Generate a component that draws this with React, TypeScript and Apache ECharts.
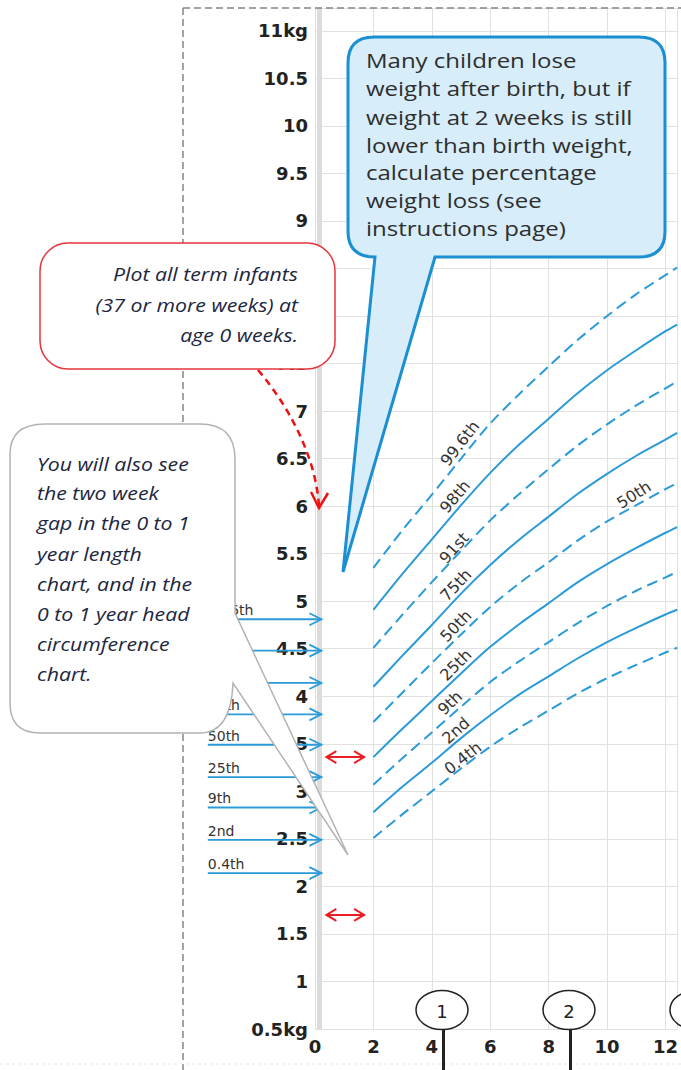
import React, { useEffect, useRef } from 'react';
import * as echarts from 'echarts';

// ---------- data ----------
const weeks = [2, 3, 4, 5, 6, 7, 8, 9, 10, 11, 12, 12.4];
const centileNames = ['99.6th', '98th', '91st', '75th', '50th', '25th', '9th', '2nd', '0.4th'];
const c99_6 = [5.35, 5.75, 6.12, 6.5, 6.87, 7.18, 7.47, 7.75, 8.0, 8.23, 8.43, 8.51];
const c98 = [4.91, 5.29, 5.65, 6.01, 6.35, 6.65, 6.92, 7.19, 7.43, 7.64, 7.84, 7.91];
const c91 = [4.51, 4.86, 5.2, 5.53, 5.85, 6.13, 6.39, 6.64, 6.86, 7.06, 7.24, 7.31];
const c75 = [4.1, 4.43, 4.75, 5.08, 5.38, 5.65, 5.89, 6.13, 6.34, 6.53, 6.7, 6.77];
const c50 = [3.73, 4.04, 4.35, 4.65, 4.94, 5.19, 5.41, 5.64, 5.84, 6.01, 6.18, 6.24];
const c25 = [3.36, 3.66, 3.95, 4.24, 4.52, 4.76, 4.98, 5.2, 5.39, 5.56, 5.72, 5.78];
const c9 = [3.07, 3.35, 3.62, 3.89, 4.15, 4.37, 4.57, 4.77, 4.95, 5.11, 5.25, 5.31];
const c2 = [2.78, 3.05, 3.3, 3.56, 3.8, 4.02, 4.21, 4.4, 4.57, 4.72, 4.86, 4.91];
const c0_4 = [2.51, 2.76, 3.0, 3.24, 3.47, 3.67, 3.85, 4.03, 4.19, 4.33, 4.46, 4.51];
const centileValues = [c99_6, c98, c91, c75, c50, c25, c9, c2, c0_4];
const centileDashed = [true, false, true, false, true, false, true, false, true];

// centile label anchors (weeks, kg) and slope angle (deg)
const labelWeeks = [4.96, 4.79, 4.76, 4.82, 4.82, 4.82, 4.62, 4.82, 5.06];
const labelKg = [6.66, 6.1, 5.56, 5.17, 4.74, 4.33, 3.93, 3.64, 3.35];
const labelAngle = [52, 50, 48, 47, 46, 45, 44, 42, 38];
const extraLabel = { text: '50th', week: 10.92, kg: 6.12, angle: 32 };

// birth-weight centile arrows at age 0
const birthKg = [4.81, 4.48, 4.14, 3.81, 3.49, 3.15, 2.83, 2.49, 2.14];
const birthArrowFromWeek = -3.67;
const birthArrowToWeek = 0.22;

// two-week gap double arrows
const gapKg = [3.36, 1.7];
const gapFromWeek = 0.39;
const gapToWeek = 1.68;

// month markers
const months = [1, 2, 3];
const WEEKS_PER_MONTH = 4.348;

// axes
const X_MIN = 0;
const X_MAX = 12.39;
const X_STEP = 2;
const Y_MIN = 0.5;
const Y_MAX = 11.24;
const Y_STEP = 0.5;

// ---------- styles ----------
const BLUE = '#2a9ad8';
const AXIS_FONT = "'DejaVu Sans', sans-serif";
const OPEN = "'Open Sans', sans-serif";
const CHART_W = 681;

const GREY_PATH =
  'M 45 424 L 200 424 Q 235 424 235 459 L 235 613 L 348 855 L 233 683 Q 231 733 200 733 L 40 733 Q 10 733 10 703 L 10 454 Q 10 424 45 424 Z';
const BLUE_PATH =
  'M 374 37 L 639 37 Q 665 37 665 63 L 665 231 Q 665 257 639 257 L 435 257 L 343 572 L 375 257 Q 348 257 348 231 L 348 63 Q 348 37 374 37 Z';

echarts.graphic.registerShape('greyCallout', echarts.graphic.extendPath(GREY_PATH, {}));
echarts.graphic.registerShape('blueCallout', echarts.graphic.extendPath(BLUE_PATH, {}));

function txt(text: string, x: number, y: number, o: any) {
  const align = o.align || 'left';
  return {
    type: 'text',
    x,
    y,
    z: o.z ?? 120,
    silent: true,
    rotation: o.rot || 0,
    scaleX: o.sx || 1,
    style: {
      text,
      fill: o.color || '#333',
      fontSize: o.size,
      fontFamily: o.family || OPEN,
      fontStyle: o.italic ? 'italic' : 'normal',
      fontWeight: o.weight || 'normal',
      textAlign: align,
      align,
      textVerticalAlign: 'middle',
      verticalAlign: 'middle',
    },
  };
}

function line(x1: number, y1: number, x2: number, y2: number, stroke: string, w: number, z: number, dash?: number[]) {
  return {
    type: 'line',
    z,
    silent: true,
    shape: { x1, y1, x2, y2 },
    style: { stroke, lineWidth: w, lineDash: dash || null },
  };
}

function poly(points: number[][], stroke: string, w: number, z: number) {
  return { type: 'polyline', z, silent: true, shape: { points }, style: { stroke, lineWidth: w, fill: null } };
}

function buildGraphics(toPx: (x: number, y: number) => number[]) {
  const g: any[] = [];
  // dashed outer border
  g.push(line(183, 8, 681, 8, '#858585', 1.5, 90, [7, 4]));
  g.push(line(183, 8, 183, 1070, '#858585', 1.5, 90, [7, 4]));
  g.push(line(0, 1064, 681, 1064, '#e4e4e4', 1, 90, [3, 3]));

  // birth arrows with labels
  birthKg.forEach((kg, i) => {
    const a = toPx(birthArrowFromWeek, kg);
    const b = toPx(birthArrowToWeek, kg);
    g.push(line(a[0], a[1], b[0], b[1], BLUE, 1.8, 105));
    g.push(poly([[b[0] - 12, b[1] - 6], [b[0], b[1]], [b[0] - 12, b[1] + 6]], BLUE, 1.8, 105));
    g.push(txt(centileNames[i], a[0], a[1] - 9, { size: 14, family: AXIS_FONT, color: '#333', z: 106 }));
  });

  // two-week gap double arrows
  gapKg.forEach((kg) => {
    const a = toPx(gapFromWeek, kg);
    const b = toPx(gapToWeek, kg);
    g.push(line(a[0], a[1], b[0], b[1], '#ee1c25', 2, 105));
    g.push(poly([[a[0] + 10, a[1] - 6], [a[0], a[1]], [a[0] + 10, a[1] + 6]], '#ee1c25', 2, 105));
    g.push(poly([[b[0] - 10, b[1] - 6], [b[0], b[1]], [b[0] - 10, b[1] + 6]], '#ee1c25', 2, 105));
  });

  // centile labels on curves
  centileNames.forEach((name, i) => {
    const p = toPx(labelWeeks[i], labelKg[i]);
    g.push(txt(name, p[0], p[1], { size: 16, family: AXIS_FONT, color: '#333', align: 'center', rot: (labelAngle[i] * Math.PI) / 180, z: 104 }));
  });
  {
    const p = toPx(extraLabel.week, extraLabel.kg);
    g.push(txt(extraLabel.text, p[0], p[1], { size: 16, family: AXIS_FONT, color: '#333', align: 'center', rot: (extraLabel.angle * Math.PI) / 180, z: 104 }));
  }

  // month markers
  months.forEach((m) => {
    const p = toPx(m * WEEKS_PER_MONTH, Y_MIN);
    const cy = p[1] - 19;
    g.push(line(p[0] + 1.5, cy + 19, p[0] + 1.5, 1070, '#222', 3, 100));
    g.push({ type: 'ellipse', z: 101, silent: true, shape: { cx: p[0], cy, rx: 26, ry: 19.5 }, style: { fill: '#fff', stroke: '#222', lineWidth: 1.5 } });
    if (p[0] + 8 < CHART_W) {
      g.push(txt(String(m), p[0], cy + 1, { size: 18, family: AXIS_FONT, color: '#222', align: 'center', z: 102 }));
    }
  });

  // red callout
  g.push({ type: 'rect', z: 110, silent: true, shape: { x: 40, y: 243, width: 295, height: 126, r: 28 }, style: { fill: '#fff', stroke: '#e8343c', lineWidth: 1.5 } });
  const redLines = ['Plot all term infants', '(37 or more weeks) at', 'age 0 weeks.'];
  const redY = [273, 304, 334];
  redLines.forEach((t, i) => g.push(txt(t, 298, redY[i], { size: 19, italic: true, color: '#1c2640', align: 'right', sx: 1.12, z: 111 })));
  g.push({ type: 'bezierCurve', z: 110, silent: true, shape: { x1: 258, y1: 370, cpx1: 292, cpy1: 410, cpx2: 316, cpy2: 460, x2: 319, y2: 506 }, style: { stroke: '#ee1111', lineWidth: 2.5, lineDash: [7, 5], fill: null } });
  g.push(poly([[311, 492], [319, 508], [328, 493]], '#ee1111', 2.5, 110));

  // grey callout
  g.push({ type: 'greyCallout', x: 0, y: 0, z: 110, silent: true, style: { fill: '#fff', stroke: '#b3b3b3', lineWidth: 1.5 } });
  const greyLines = ['You will also see', 'the two week', 'gap in the 0 to 1', 'year length', 'chart, and in the', '0 to 1 year head', 'circumference', 'chart.'];
  const greyY = [463, 492, 522, 553, 583, 613, 643, 673];
  greyLines.forEach((t, i) => g.push(txt(t, 37, greyY[i], { size: 19, italic: true, color: '#1c2640', sx: 1.12, z: 111 })));

  // blue callout
  g.push({ type: 'blueCallout', x: 0, y: 0, z: 110, silent: true, style: { fill: '#d7edf9', stroke: '#1b8fd2', lineWidth: 3 } });
  const blueLines = ['Many children lose', 'weight after birth, but if', 'weight at 2 weeks is still', 'lower than birth weight,', 'calculate percentage', 'weight loss (see', 'instructions page)'];
  const blueY = [60, 88, 117, 145, 172, 200, 228];
  blueLines.forEach((t, i) => g.push(txt(t, 366, blueY[i], { size: 20, color: '#2e2e2e', sx: 1.2, z: 111 })));

  return g;
}

function buildOption() {
  const series: any[] = centileValues.map((vals, i) => ({
    name: centileNames[i],
    type: 'line',
    data: weeks.map((w, j) => [w, vals[j]]),
    smooth: 0.3,
    showSymbol: false,
    silent: true,
    z: 3,
    lineStyle: { color: BLUE, width: 2, type: centileDashed[i] ? [11, 6] : 'solid' },
  }));
  series[0].markLine = {
    silent: true,
    symbol: 'none',
    label: { show: false },
    lineStyle: { color: '#dcdcdc', width: 5, type: 'solid' },
    data: [{ xAxis: 0.16 }],
  };
  return {
    animation: false,
    backgroundColor: '#ffffff',
    grid: { left: 315, right: 0, top: 8, bottom: 41, containLabel: false },
    xAxis: {
      type: 'value',
      min: X_MIN,
      max: X_MAX,
      interval: X_STEP,
      axisLine: { show: false },
      axisTick: { show: false },
      splitLine: { show: true, lineStyle: { color: '#e1e1e1', width: 1 } },
      axisLabel: {
        margin: 8,
        fontSize: 18,
        fontWeight: 'bold',
        fontFamily: AXIS_FONT,
        color: '#222',
        formatter: (v: number) => (Math.abs(v - Math.round(v)) < 1e-6 ? String(Math.round(v)) : ''),
      },
    },
    yAxis: {
      type: 'value',
      min: Y_MIN,
      max: Y_MAX,
      interval: Y_STEP,
      axisLine: { show: false },
      axisTick: { show: false },
      splitLine: { show: true, lineStyle: { color: '#e1e1e1', width: 1 } },
      axisLabel: {
        margin: 7,
        fontSize: 18,
        fontWeight: 'bold',
        fontFamily: AXIS_FONT,
        color: '#222',
        formatter: (v: number) => {
          if (Math.abs(v * 2 - Math.round(v * 2)) > 1e-6) return '';
          if (Math.abs(v - 11) < 1e-6) return '11kg';
          if (Math.abs(v - 0.5) < 1e-6) return '0.5kg';
          return String(Math.round(v * 2) / 2);
        },
      },
    },
    series,
  };
}

export default function App() {
  const ref = useRef<HTMLDivElement>(null);
  useEffect(() => {
    const el = ref.current;
    if (!el) return;
    const chart = echarts.init(el, null, { renderer: 'svg' });
    chart.setOption(buildOption());
    const toPx = (x: number, y: number) => chart.convertToPixel({ gridIndex: 0 }, [x, y]) as number[];
    chart.setOption({ graphic: buildGraphics(toPx) });
    return () => chart.dispose();
  }, []);
  return (
    <div
      ref={ref}
      style={{ position: 'absolute', left: 0, top: 0, width: 681, height: 1070, background: '#fff' }}
    />
  );
}
